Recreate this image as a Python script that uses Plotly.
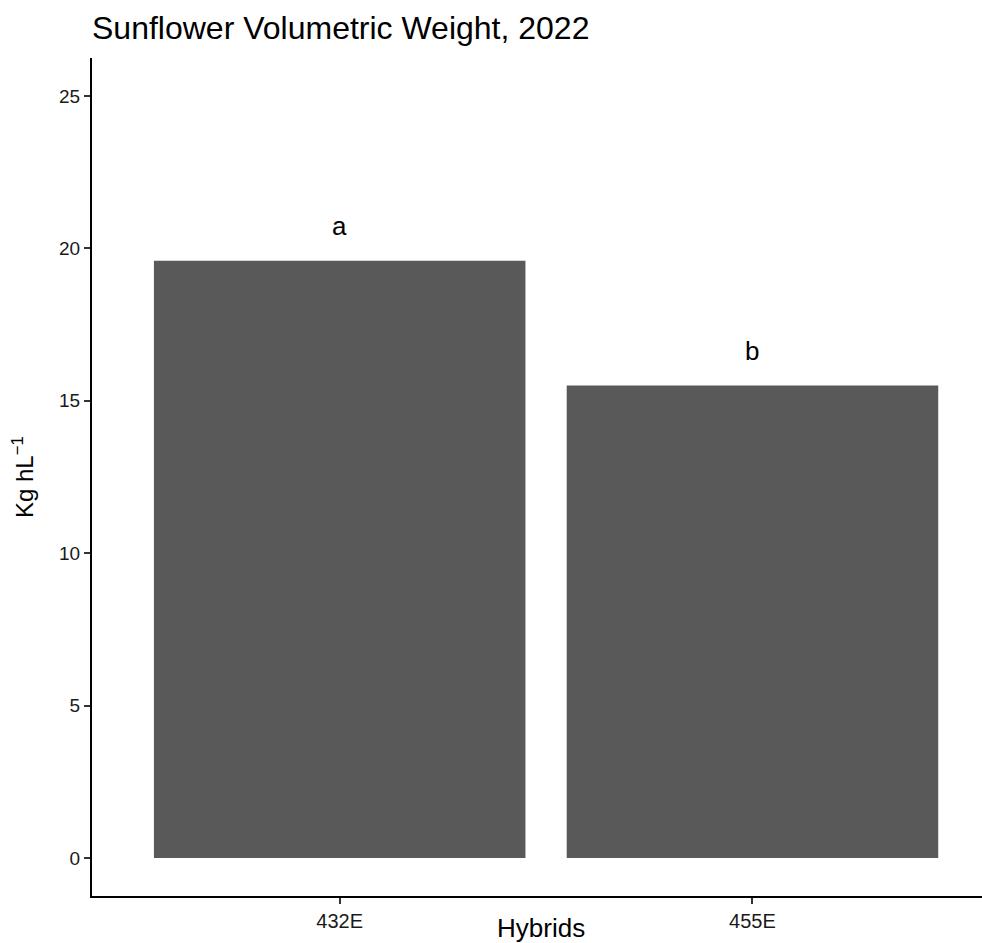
import plotly.graph_objects as go

hybrids = ["432E", "455E"]
weights = [19.6, 15.5]
letters = ["a", "b"]
y_ticks = [0, 5, 10, 15, 20, 25]

FONT = "Liberation Sans, Arial, sans-serif"

fig = go.Figure()
fig.add_trace(go.Bar(
    x=hybrids, y=weights, width=0.9,
    marker=dict(color="#595959", line=dict(width=0)),
    showlegend=False, hoverinfo="skip",
))

for h, w, l in zip(hybrids, weights, letters):
    fig.add_annotation(x=h, y=w, text=l, showarrow=False,
                       xref="x", yref="y", yanchor="bottom", yshift=18,
                       font=dict(family=FONT, size=26, color="#000000"))

fig.add_annotation(text="Hybrids", xref="paper", yref="paper", x=0.505, y=0,
                   yanchor="top", yshift=-15, showarrow=False,
                   font=dict(family=FONT, size=26, color="#000000"))
fig.add_annotation(text="Kg hL<sup>−1</sup>", xref="paper", yref="paper",
                   x=0, y=0.5, xanchor="right", xshift=-52, textangle=-90,
                   showarrow=False,
                   font=dict(family=FONT, size=24, color="#000000"))

fig.update_layout(
    width=982, height=943,
    margin=dict(l=92, r=0, t=58, b=47),
    paper_bgcolor="white", plot_bgcolor="white",
    title=dict(text="Sunflower Volumetric Weight, 2022", xref="paper", x=0,
               xanchor="left", yref="container", y=1 - 17 / 943, yanchor="top",
               font=dict(family=FONT, size=32, color="#000000")),
    xaxis=dict(type="category", range=[-0.6, 1.556], showgrid=False,
               showline=True, linecolor="#000000", linewidth=2,
               ticks="outside", ticklen=6, tickwidth=1.5, tickcolor="#333333",
               tickfont=dict(family=FONT, size=20, color="#1a1a1a"),
               zeroline=False, fixedrange=True),
    yaxis=dict(range=[-1.25, 26.25], tickvals=y_ticks, showgrid=False,
               showline=True, linecolor="#000000", linewidth=2,
               ticks="outside", ticklen=6, tickwidth=1.5, tickcolor="#333333",
               tickfont=dict(family=FONT, size=19, color="#1a1a1a"),
               zeroline=False, fixedrange=True),
)

fig.write_html("out.html", config={"displayModeBar": False},
               post_script="document.body.style.margin='0';")
